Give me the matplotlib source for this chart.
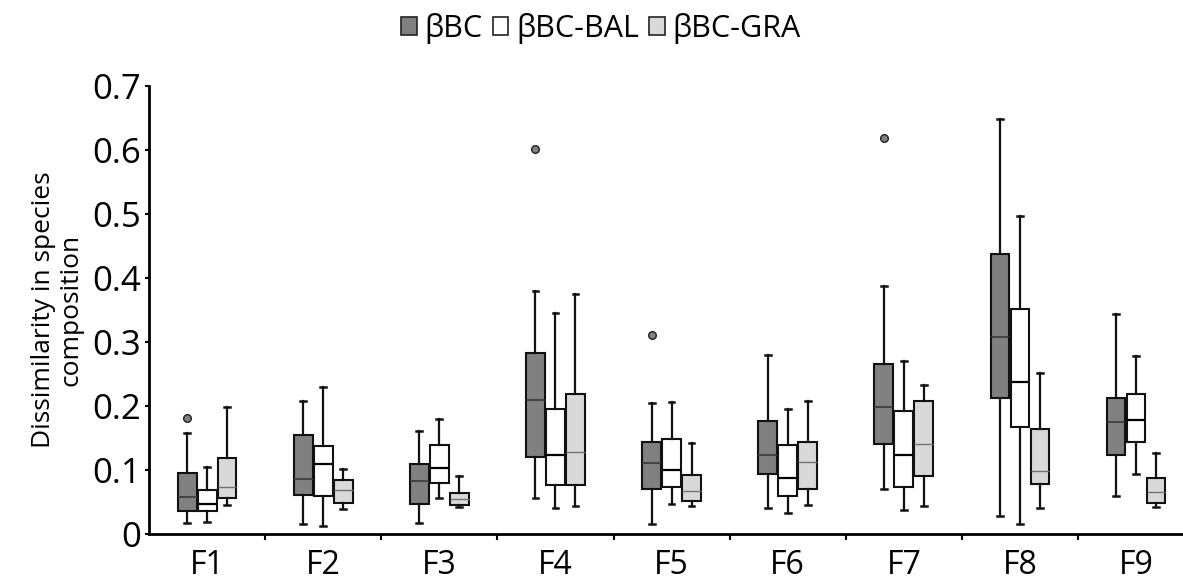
import matplotlib
matplotlib.use('Agg')
import matplotlib.pyplot as plt
from matplotlib.patches import Patch
import numpy as np

plt.rcParams['font.family'] = ['Open Sans', 'DejaVu Sans']

groups = ['F1', 'F2', 'F3', 'F4', 'F5', 'F6', 'F7', 'F8', 'F9']
series = ['βBC', 'βBC-BAL', 'βBC-GRA']

# box stats: whisker low, q1, median, q3, whisker high
bc_lo  = [0.017, 0.015, 0.017, 0.057, 0.016, 0.041, 0.071, 0.028, 0.059]
bc_q1  = [0.036, 0.061, 0.047, 0.121, 0.071, 0.094, 0.140, 0.212, 0.123]
bc_med = [0.058, 0.086, 0.083, 0.210, 0.111, 0.123, 0.198, 0.307, 0.175]
bc_q3  = [0.096, 0.155, 0.110, 0.283, 0.143, 0.177, 0.266, 0.438, 0.213]
bc_hi  = [0.158, 0.207, 0.161, 0.379, 0.204, 0.280, 0.387, 0.648, 0.343]
bc_out = [[0.181], [], [], [0.602], [0.311], [], [0.618], [], []]

bal_lo  = [0.018, 0.013, 0.056, 0.040, 0.047, 0.033, 0.037, 0.015, 0.094]
bal_q1  = [0.036, 0.059, 0.079, 0.077, 0.074, 0.059, 0.073, 0.167, 0.143]
bal_med = [0.047, 0.109, 0.103, 0.123, 0.100, 0.087, 0.124, 0.237, 0.178]
bal_q3  = [0.069, 0.138, 0.139, 0.195, 0.148, 0.139, 0.192, 0.351, 0.219]
bal_hi  = [0.104, 0.229, 0.180, 0.345, 0.206, 0.195, 0.270, 0.496, 0.278]

gra_lo  = [0.046, 0.039, 0.042, 0.044, 0.044, 0.045, 0.044, 0.041, 0.042]
gra_q1  = [0.057, 0.049, 0.045, 0.077, 0.052, 0.070, 0.091, 0.078, 0.049]
gra_med = [0.073, 0.069, 0.055, 0.128, 0.067, 0.112, 0.140, 0.099, 0.065]
gra_q3  = [0.118, 0.085, 0.064, 0.218, 0.092, 0.144, 0.207, 0.164, 0.088]
gra_hi  = [0.198, 0.101, 0.090, 0.375, 0.142, 0.207, 0.233, 0.251, 0.126]


def make_stats(lo, q1, med, q3, hi, out=None):
    stats = []
    for i in range(len(lo)):
        stats.append({'whislo': lo[i], 'q1': q1[i], 'med': med[i],
                      'q3': q3[i], 'whishi': hi[i],
                      'fliers': out[i] if out else []})
    return stats


all_stats = [
    make_stats(bc_lo, bc_q1, bc_med, bc_q3, bc_hi, bc_out),
    make_stats(bal_lo, bal_q1, bal_med, bal_q3, bal_hi),
    make_stats(gra_lo, gra_q1, gra_med, gra_q3, gra_hi),
]
face_colors = ['#808080', '#ffffff', '#d9d9d9']
med_colors = ['#3a3a3a', '#000000', '#707070']
med_widths = [1.2, 1.6, 1.0]
offsets = [-0.172, 0.0, 0.172]

fig = plt.figure(figsize=(11.83, 5.84), dpi=100)
ax = fig.add_axes([0.126, 0.0856, 0.8834, 0.7674])

x = np.arange(1, len(groups) + 1)
for i in range(3):
    ax.bxp(all_stats[i], positions=x + offsets[i], widths=0.162,
           patch_artist=True, capwidths=0.05,
           boxprops=dict(facecolor=face_colors[i], edgecolor='#111111', linewidth=1.5),
           medianprops=dict(color=med_colors[i], linewidth=med_widths[i]),
           whiskerprops=dict(color='#111111', linewidth=1.6),
           capprops=dict(color='#111111', linewidth=1.8),
           flierprops=dict(marker='o', markersize=5.5, markerfacecolor='#808080',
                           markeredgecolor='#222222', markeredgewidth=1.0))

ax.set_xlim(0.5, 9.5)
ax.set_ylim(0, 0.7)
ax.set_yticks(np.arange(0, 0.71, 0.1))
ax.set_yticklabels(['0', '0.1', '0.2', '0.3', '0.4', '0.5', '0.6', '0.7'], fontsize=25)
ax.set_xticks(np.arange(1.5, 9.5, 1.0))
ax.set_xticklabels([])
ax.set_xticks(x, minor=True)
ax.set_xticklabels(groups, minor=True, fontsize=23)
ax.tick_params(axis='x', which='minor', length=0, pad=11)
ax.tick_params(axis='x', which='major', length=4, width=1.5, direction='out')
ax.tick_params(axis='y', length=3, width=1.5, pad=3)
for s in ['top', 'right']:
    ax.spines[s].set_visible(False)
for s in ['left', 'bottom']:
    ax.spines[s].set_linewidth(2)
ax.set_ylabel('Dissimilarity in species\ncomposition', fontsize=19, labelpad=6,
              linespacing=1.15)

handles = [Patch(facecolor=c, edgecolor='#222222', linewidth=1.2) for c in face_colors]
fig.legend(handles, series, loc='upper center', bbox_to_anchor=(0.508, 1.025), ncol=3,
           frameon=False, fontsize=22, handlelength=0.5, handleheight=0.5,
           handletextpad=0.25, columnspacing=0.35)

fig.savefig('out.png', dpi=100)
